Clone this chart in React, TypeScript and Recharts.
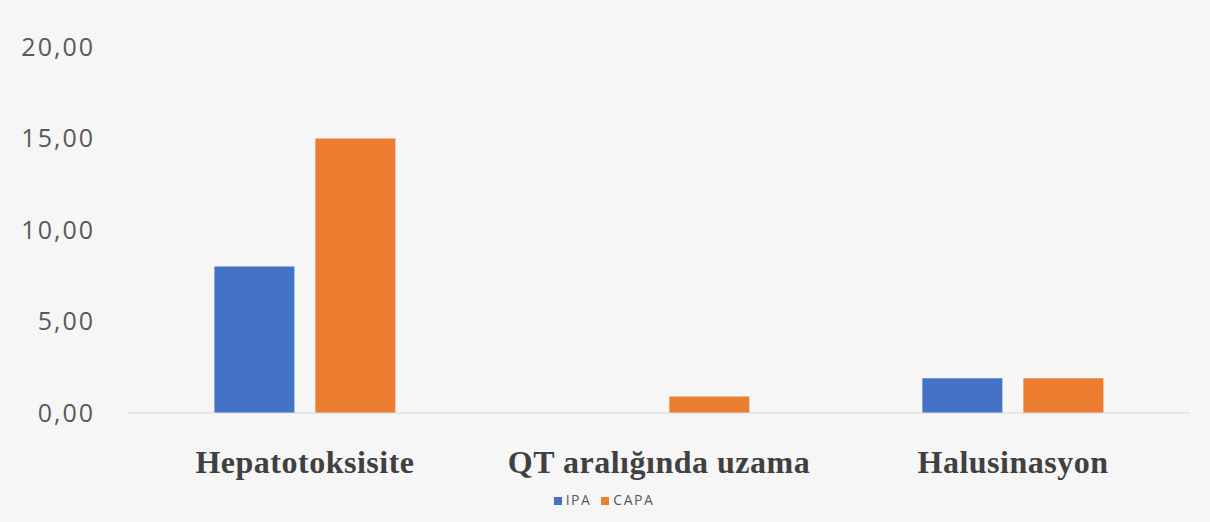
import React from "react";
import { BarChart, Bar, XAxis, YAxis, Legend } from "recharts";

const categories = ["Hepatotoksisite", "QT aralığında uzama", "Halusinasyon"];
const ipaValues = [8, 0, 1.9];
const capaValues = [15, 0.9, 1.9];
const yTicks = [0, 5, 10, 15, 20];
const seriesOrder = ["IPA", "CAPA"];

const data = categories.map((name, i) => ({
  name,
  IPA: ipaValues[i],
  CAPA: capaValues[i],
}));

const CategoryTick = ({ x, y, payload }: { x?: number; y?: number; payload?: { value: string } }) => (
  <text
    x={x}
    y={(y ?? 0) + 52}
    textAnchor="middle"
    fontFamily="'Liberation Serif', 'Times New Roman', serif"
    fontWeight="bold"
    fontSize={32}
    letterSpacing={0.5}
    fill="#404040"
  >
    {payload?.value}
  </text>
);

export default function App() {
  return (
    <div
      style={{
        position: "absolute",
        left: 0,
        top: 0,
        width: 1210,
        height: 522,
        background: "#f6f6f6",
        fontFamily: "'Open Sans', 'Liberation Sans', sans-serif",
      }}
    >
      <BarChart
        width={1210}
        height={522}
        data={data}
        margin={{ top: 47, right: 20, left: 0, bottom: 2 }}
        barCategoryGap="24.4%"
        barGap={21}
      >
        <XAxis
          dataKey="name"
          height={77}
          tickLine={false}
          axisLine={{ stroke: "#d9d9d9" }}
          tick={<CategoryTick />}
          interval={0}
        />
        <YAxis
          width={128}
          domain={[0, 20]}
          ticks={yTicks}
          axisLine={false}
          tickLine={false}
          tickMargin={27}
          tick={{ fontSize: 25, fill: "#595959", letterSpacing: 2 }}
          tickFormatter={(v: number) => v.toFixed(2).replace(".", ",")}
        />
        <Legend
          verticalAlign="bottom"
          height={30}
          iconType="square"
          iconSize={8}
          itemSorter={(item: { value?: string }) => seriesOrder.indexOf(item.value ?? "")}
          wrapperStyle={{ fontSize: 14, color: "#595959", letterSpacing: 1.5, paddingLeft: 14 }}
          formatter={(value: string) => <span style={{ color: "#595959" }}>{value}</span>}
        />
        <Bar dataKey="IPA" fill="#4472C4" isAnimationActive={false} />
        <Bar dataKey="CAPA" fill="#ED7D31" isAnimationActive={false} />
      </BarChart>
    </div>
  );
}
